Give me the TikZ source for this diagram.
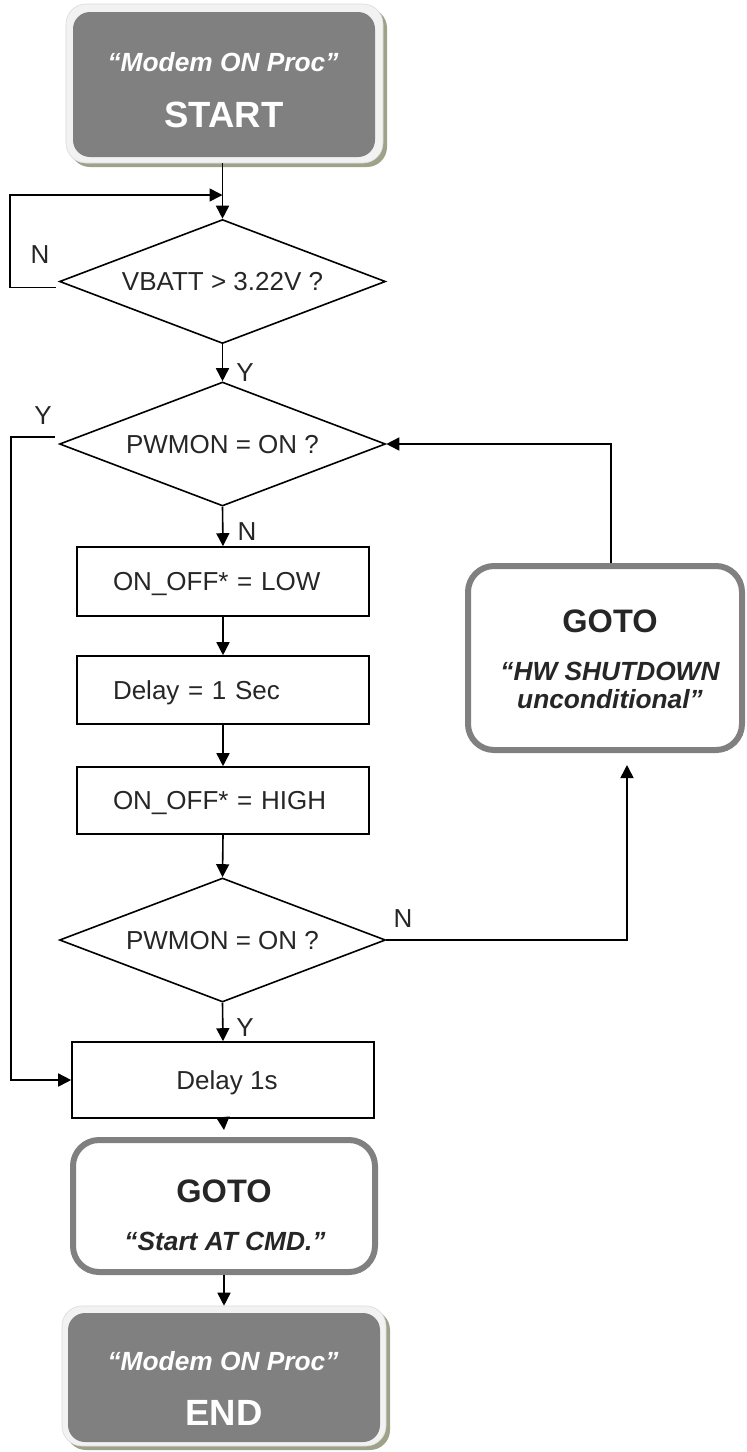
\documentclass[tikz,border=0pt]{standalone}
\usepackage{fontspec}
\setmainfont{Liberation Sans}
\usetikzlibrary{shapes.geometric,arrows.meta}
\newcommand\fsreg{\fontsize{26}{30}\selectfont}
\newcommand\fsbig{\fontsize{36.5}{42}\selectfont\bfseries}
\newcommand\fsgo{\fontsize{32.5}{36}\selectfont\bfseries}
\newcommand\fsit{\fontsize{26.3}{28}\selectfont\bfseries\itshape}
\definecolor{termgray}{HTML}{808080}
\definecolor{rimgray}{HTML}{F2F2F2}
\definecolor{rimline}{HTML}{DADADA}
\definecolor{shadowol}{HTML}{9EA289}
\definecolor{gotoline}{HTML}{808080}
\definecolor{txtdark}{HTML}{262626}
\begin{document}
\begin{tikzpicture}[x=1pt,y=-1pt,
  line/.style={line width=1.6pt, draw=black},
  arr/.style={line, -{Triangle[length=13pt,width=13pt]}},
  stepbox/.style={draw=black, line width=1.6pt, minimum width=292pt, inner xsep=36pt, text width=220pt, align=left, font=\fsreg, text height=18.5pt, text depth=0pt, text=txtdark},
  dec/.style={diamond, draw=black, line width=1.6pt, inner sep=0pt, aspect=2.6, minimum width=326pt, minimum height=124pt, font=\fsreg, text height=18.5pt, text depth=0pt, text=txtdark},
  lbl/.style={font=\fsreg, inner sep=0pt, text=txtdark},
  shad/.style={fill=shadowol, rounded corners=20pt, inner sep=0pt},
  rim/.style={fill=rimgray, draw=rimline, line width=0.6pt, rounded corners=20pt, inner sep=0pt},
  term/.style={fill=termgray, rounded corners=17pt, inner sep=0pt},
  gotobox/.style={draw=gotoline, line width=6pt, fill=white, rounded corners=26pt, inner sep=0pt},
  termtxt/.style={text=white, inner sep=0pt, anchor=base},
  gototxt/.style={text=txtdark, inner sep=0pt, anchor=base}
]
\useasboundingbox (0,0) rectangle (747,1452);

% START terminal
\node[shad, minimum width=317pt, minimum height=159pt] (startshadow) at (228.5,87.5) {};
\node[rim, minimum width=317pt, minimum height=159pt] (startrim) at (224.5,83.5) {};
\node[term, minimum width=302pt, minimum height=145pt] (start) at (224,84.5) {};
\node[termtxt, font=\fsit] (starttitle) at (223,71) {“Modem ON Proc”};
\node[termtxt, font=\fsbig] (startword) at (224,127) {START};

% decisions and steps
\node[dec] (d1) at (222.5,281.5) {VBATT > 3.22V ?};
\node[dec] (d2) at (222.5,444) {PWMON = ON ?};
\node[stepbox, minimum height=69pt] (low) at (223,581.5) {ON\_OFF* = LOW};
\node[stepbox, minimum height=68pt] (dly) at (223,690) {Delay = 1 Sec};
\node[stepbox, minimum height=67pt] (high) at (223,800.5) {ON\_OFF* = HIGH};
\node[dec] (d3) at (222.5,940) {PWMON = ON ?};
\node[draw=black, line width=1.6pt, minimum width=302pt, minimum height=76pt, font=\fsreg, text height=18.5pt, text depth=0pt, text=txtdark, inner sep=0pt] (dly1) at (223,1080) {\hspace*{8pt}Delay 1s};

% GOTO HW SHUTDOWN
\node[gotobox, minimum width=274pt, minimum height=184pt] (hw) at (605,658) {};
\node[gototxt, font=\fsgo] (hwgoto) at (610,632) {GOTO};
\node[gototxt, font=\fsit] (hwtxt1) at (610,680) {“HW SHUTDOWN};
\node[gototxt, font=\fsit] (hwtxt2) at (610,708) {unconditional”};

% GOTO Start AT CMD
\node[gotobox, minimum width=302pt, minimum height=132pt] (cmd) at (224,1206) {};
\node[gototxt, font=\fsgo] (cmdgoto) at (224,1202) {GOTO};
\node[gototxt, font=\fsit] (cmdtxt) at (225,1250) {“Start AT CMD.”};

% END terminal
\node[shad, minimum width=324pt, minimum height=140pt] (endshadow) at (228,1380) {};
\node[rim, minimum width=324pt, minimum height=140pt] (endrim) at (224,1376) {};
\node[term, minimum width=312pt, minimum height=129pt] (endbox) at (224,1377.5) {};
\node[termtxt, font=\fsit] (endtitle) at (223,1370) {“Modem ON Proc”};
\node[termtxt, font=\fsbig] (endword) at (224,1425) {END};

% helper coordinates
\coordinate (loopTop) at (10,195);
\coordinate (leftRail) at (11,1080);

% connectors
\draw[arr] (startrim.south -| d1.north) -- (d1.north);
\draw[arr] ([xshift=-3pt,yshift=-6pt]d1.west) -| (loopTop) -- (loopTop -| d1.north);
\draw[arr] (d1.south) -- (d2.north);
\draw[arr] ([xshift=-4pt,yshift=7pt]d2.west) -| (leftRail) -- (dly1.west);
\draw[arr] (d2.south) -- (low.north);
\draw[arr] (low.south) -- (dly.north);
\draw[arr] (dly.south) -- (high.north);
\draw[arr] (high.south) -- (d3.north);
\draw[arr] (d3.south) -- (dly1.north);
\draw[arr] (d3.east) -| ([xshift=22pt,yshift=-12pt]hw.south);
\draw[arr] ([xshift=6pt]hw.north) |- (d2.east);
\draw[arr] (dly1.south) -- ([yshift=7pt]cmd.north);
\draw[arr] (cmd.south) -- (endrim.north);

% branch labels
\node[lbl] (n1) at (40,255) {N};
\node[lbl] (y1) at (245,373) {Y};
\node[lbl] (y2) at (43,416) {Y};
\node[lbl] (n2) at (247,532) {N};
\node[lbl] (n3) at (403,919) {N};
\node[lbl] (y3) at (245,1028) {Y};
\end{tikzpicture}
\end{document}
